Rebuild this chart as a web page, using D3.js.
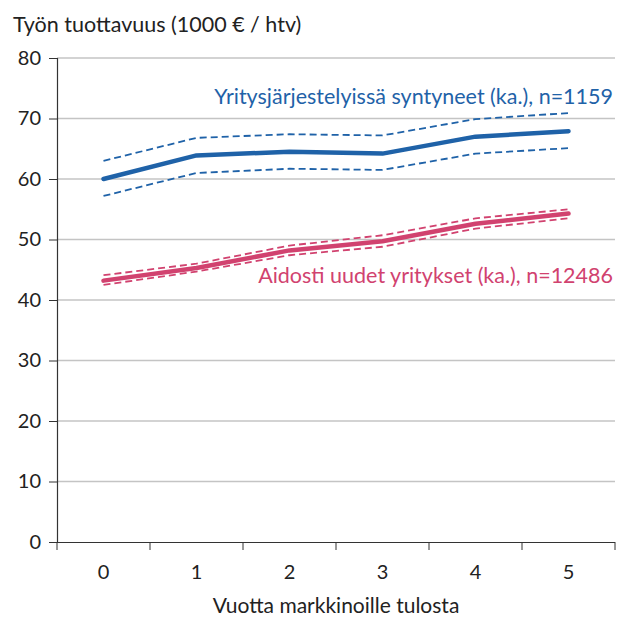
<!DOCTYPE html>
<html>
<head>
<meta charset="utf-8">
<script src="https://cdn.jsdelivr.net/npm/d3@7"></script>
<style>
	body { margin: 0; background: #fff; }
	svg { display: block; font-family: Lato, "Open Sans", sans-serif; }
</style>
</head>
<body>
<svg class="chart" width="630" height="617"></svg>
<script>
//data
var years = [0, 1, 2, 3, 4, 5];
var yTicks = [0, 10, 20, 30, 40, 50, 60, 70, 80];

var mergedMean = [60.0, 63.9, 64.5, 64.2, 67.0, 67.9];
var mergedUpper = [63.0, 66.8, 67.4, 67.2, 69.9, 70.9];
var mergedLower = [57.2, 61.0, 61.7, 61.5, 64.2, 65.1];

var newMean = [43.2, 45.3, 48.2, 49.7, 52.6, 54.3];
var newUpper = [44.1, 46.0, 49.0, 50.7, 53.5, 55.0];
var newLower = [42.5, 44.7, 47.4, 48.8, 51.8, 53.5];

var blue = "#1f62a8";
var pink = "#d1426f";

//plot area (note: "top" is reserved on window, so use a margin object)
var plot = {left: 57, right: 615, top: 58, bottom: 542};

var svg = d3.select(".chart");

var x = d3.scaleBand().domain(years).range([plot.left, plot.right]);
var y = d3.scaleLinear().domain([0, 80]).range([plot.bottom, plot.top]);

//gridlines
svg.append("g")
	.selectAll("line")
	.data(yTicks.filter(function (d) { return d > 0; }))
	.enter()
	.append("line")
	.attr("x1", plot.left)
	.attr("x2", plot.right)
	.attr("y1", function (d) { return y(d); })
	.attr("y2", function (d) { return y(d); })
	.attr("stroke", "#c4c4c4")
	.attr("stroke-width", 1.3);

//y axis
var yAxis = svg.append("g")
	.attr("transform", "translate(" + plot.left + ",0)")
	.call(d3.axisLeft(y).tickValues(yTicks).tickSize(8).tickPadding(8));

//x axis, ticks sit between the categories
var xAxis = svg.append("g")
	.attr("transform", "translate(0," + plot.bottom + ")")
	.call(d3.axisBottom(x).tickSize(0).tickPadding(23));

xAxis.selectAll(".boundary")
	.data(d3.range(years.length + 1))
	.enter()
	.append("line")
	.attr("class", "boundary")
	.attr("x1", function (i) { return plot.left + i * x.step(); })
	.attr("x2", function (i) { return plot.left + i * x.step(); })
	.attr("y1", 0)
	.attr("y2", 8)
	.attr("stroke", "#333");

[yAxis, xAxis].forEach(function (g) {
	g.select(".domain").attr("stroke", "#333").attr("stroke-width", 1.2);
	g.selectAll(".tick line").attr("stroke", "#333");
	g.selectAll("text")
		.attr("fill", "#222")
		.style("font-family", "Lato, sans-serif")
		.style("font-size", "20px");
});
xAxis.select(".domain").attr("d", "M" + plot.left + ",0.5H" + plot.right);
yAxis.select(".domain").attr("d", "M0.5," + plot.bottom + "V" + plot.top);

//lines
var line = d3.line()
	.x(function (d, i) { return x(years[i]) + x.bandwidth() / 2; })
	.y(function (d) { return y(d); });

function drawSeries(values, color, width, dashed) {
	svg.append("path")
		.datum(values)
		.attr("d", line)
		.attr("fill", "none")
		.attr("stroke", color)
		.attr("stroke-width", width)
		.attr("stroke-linecap", dashed ? "butt" : "round")
		.attr("stroke-linejoin", "round")
		.attr("stroke-dasharray", dashed ? "7,4" : null);
}

drawSeries(mergedUpper, blue, 1.8, true);
drawSeries(mergedLower, blue, 1.8, true);
drawSeries(mergedMean, blue, 4.5, false);
drawSeries(newUpper, pink, 1.8, true);
drawSeries(newLower, pink, 1.8, true);
drawSeries(newMean, pink, 4.5, false);

//series labels
svg.append("text")
	.attr("x", 613)
	.attr("y", 104)
	.attr("text-anchor", "end")
	.attr("fill", blue)
	.style("font-size", "21.5px")
	.text("Yritysjärjestelyissä syntyneet (ka.), n=1159");

svg.append("text")
	.attr("x", 613)
	.attr("y", 283)
	.attr("text-anchor", "end")
	.attr("fill", pink)
	.style("font-size", "21.5px")
	.text("Aidosti uudet yritykset (ka.), n=12486");

//titles
svg.append("text")
	.attr("x", 13)
	.attr("y", 32)
	.attr("fill", "#222")
	.style("font-size", "21.5px")
	.text("Työn tuottavuus (1000 € / htv)");

svg.append("text")
	.attr("x", 336)
	.attr("y", 613)
	.attr("text-anchor", "middle")
	.attr("fill", "#222")
	.style("font-size", "21px")
	.text("Vuotta markkinoille tulosta");
</script>
</body>
</html>
